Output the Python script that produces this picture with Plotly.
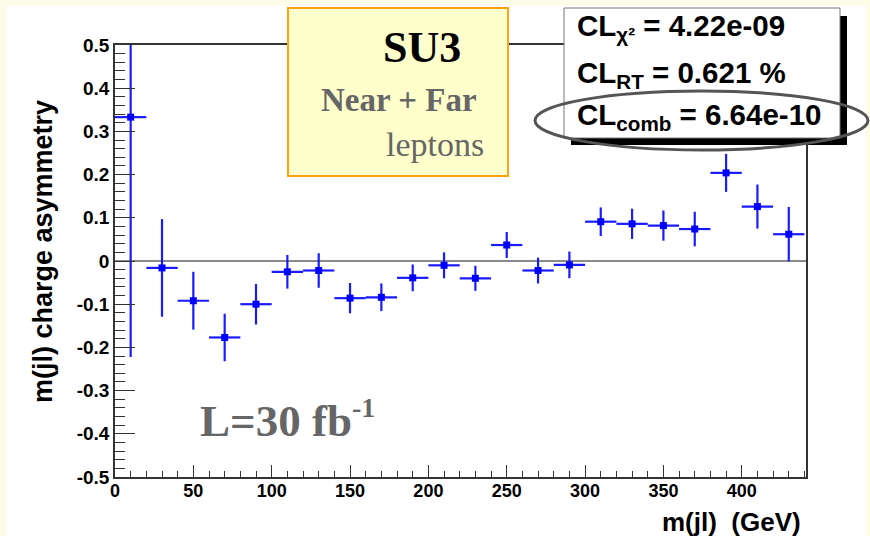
import plotly.graph_objects as go

# ---- data ----
bin_centers = [10, 30, 50, 70, 90, 110, 130, 150, 170, 190, 210, 230, 250, 270, 290,
               310, 330, 350, 370, 390, 410, 430]
asym = [0.333, -0.016, -0.092, -0.177, -0.100, -0.025, -0.022, -0.086, -0.084, -0.039,
        -0.010, -0.040, 0.037, -0.022, -0.009, 0.091, 0.086, 0.082, 0.074, 0.204, 0.126, 0.062]
asym_err = [0.555, 0.113, 0.067, 0.055, 0.047, 0.039, 0.040, 0.035, 0.032, 0.031,
            0.030, 0.029, 0.030, 0.030, 0.031, 0.033, 0.035, 0.035, 0.040, 0.044, 0.051, 0.063]
bin_half_width = 10

y_tickvals = [0.5, 0.4, 0.3, 0.2, 0.1, 0, -0.1, -0.2, -0.3, -0.4, -0.5]
y_ticktext = ["0.5", "0.4", "0.3", "0.2", "0.1", "0", "-0.1", "-0.2", "-0.3", "-0.4", "-0.5"]
x_tickvals = [0, 50, 100, 150, 200, 250, 300, 350, 400]
x_ticktext = [str(v) for v in x_tickvals]

cl_lines = ["CL<sub>χ²</sub> = 4.22e-09", "CL<sub>RT</sub> = 0.621 %", "CL<sub>comb</sub> = 6.64e-10"]

# ---- layout geometry (pixels) ----
W, H = 870, 536
L, R, T, B = 115, 806, 45, 477  # plot frame


def px(x):
    return (x - L) / (R - L)


def py(y):
    return (B - y) / (B - T)


SANS = "Liberation Sans, Arial, sans-serif"
SERIF = "Liberation Serif, Times New Roman, serif"

fig = go.Figure()
fig.add_trace(go.Scatter(
    x=bin_centers, y=asym, mode="markers",
    marker=dict(symbol="square", size=7, color="#0000ff"),
    error_y=dict(type="data", array=asym_err, thickness=2.2, width=0, color="#1a1aff"),
    error_x=dict(type="constant", value=bin_half_width, thickness=2.2, width=0, color="#1a1aff"),
    showlegend=False,
))

shapes = []
# white page panel
shapes.append(dict(type="rect", xref="paper", yref="paper", layer="below",
                   x0=px(7), x1=px(866), y0=py(536), y1=py(5),
                   fillcolor="white", line=dict(width=0)))
# SU3 box
shapes.append(dict(type="rect", xref="paper", yref="paper", layer="above",
                   x0=px(288), x1=px(508), y0=py(176), y1=py(8),
                   fillcolor="#ffffcc", line=dict(color="#ffa214", width=2)))
# CL box shadow
shapes.append(dict(type="rect", xref="paper", yref="paper", layer="above",
                   x0=px(571), x1=px(847), y0=py(145), y1=py(16),
                   fillcolor="black", line=dict(width=0)))
# CL box
shapes.append(dict(type="rect", xref="paper", yref="paper", layer="above",
                   x0=px(564), x1=px(840), y0=py(138), y1=py(8),
                   fillcolor="white", line=dict(color="#777777", width=1)))
# ellipse
shapes.append(dict(type="circle", xref="paper", yref="paper", layer="above",
                   x0=px(535), x1=px(868), y0=py(150), y1=py(91),
                   fillcolor="rgba(0,0,0,0)", line=dict(color="#555555", width=3)))

ann = []
ann.append(dict(text="<b>SU3</b>", x=px(422), y=py(48), xanchor="center", yanchor="middle",
                font=dict(family=SERIF, size=44, color="black")))
ann.append(dict(text="<b>Near + Far</b>", x=px(399), y=py(100), xanchor="center", yanchor="middle",
                font=dict(family=SERIF, size=33, color="#666666")))
ann.append(dict(text="leptons", x=px(486), y=py(144), xanchor="right", yanchor="middle",
                font=dict(family=SERIF, size=34, color="#666666")))
ann.append(dict(text="<b>L=30 fb<sup><span style='font-size:28px'>-1</span></sup></b>", x=px(198),
                y=py(419), xanchor="left", yanchor="middle",
                font=dict(family=SERIF, size=45, color="#666666")))
for i, (t, yy) in enumerate(zip(cl_lines, [28, 74, 116])):
    ann.append(dict(text="<b>" + t + "</b>", x=px(575), y=py(yy), xanchor="left", yanchor="middle",
                    font=dict(family=SANS, size=29.5, color="black")))
ann.append(dict(text="<b>m(jl) charge asymmetry</b>", x=px(43), y=py(252), xanchor="center",
                yanchor="middle", textangle=-90, font=dict(family=SANS, size=27, color="black")))
ann.append(dict(text="<b>m(jl)\u00a0 (GeV)</b>", x=px(803), y=py(522), xanchor="right",
                yanchor="middle", font=dict(family=SANS, size=26, color="black")))
for a in ann:
    a.update(xref="paper", yref="paper", showarrow=False)

fig.update_layout(
    width=W, height=H,
    margin=dict(l=L, r=W - R, t=T, b=H - B, autoexpand=False),
    paper_bgcolor="#fdfce6",
    plot_bgcolor="white",
    shapes=shapes,
    annotations=ann,
    xaxis=dict(range=[0, 441], showgrid=False, zeroline=False,
               showline=True, mirror=True, linecolor="#333333", linewidth=1.5,
               ticks="inside", ticklen=12, tickwidth=1.2, tickcolor="#333333",
               tickvals=x_tickvals, ticktext=x_ticktext, ticklabelstandoff=-3,
               minor=dict(dtick=10, ticks="inside", ticklen=6, tickwidth=1.2, tickcolor="#333333"),
               tickfont=dict(family=SANS, size=18, color="black", weight="bold")),
    yaxis=dict(range=[-0.5, 0.5], showgrid=False,
               zeroline=True, zerolinecolor="#8a8a8a", zerolinewidth=2,
               showline=True, mirror=True, linecolor="#333333", linewidth=1.5,
               ticks="inside", ticklen=20, tickwidth=1.2, tickcolor="#333333",
               tickvals=y_tickvals, ticktext=y_ticktext,
               minor=dict(dtick=0.02, ticks="inside", ticklen=10, tickwidth=1.2, tickcolor="#333333"),
               tickfont=dict(family=SANS, size=19, color="black", weight="bold")),
)

fig.write_html("out.html")
